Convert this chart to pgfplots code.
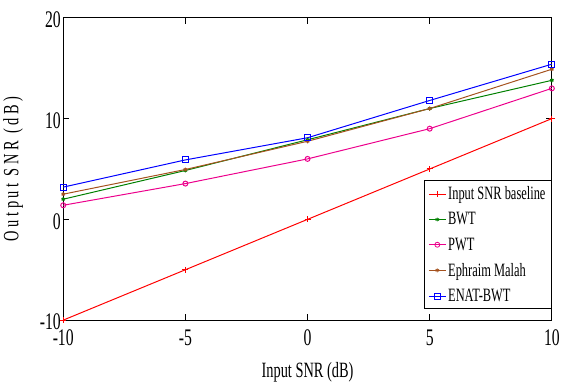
\documentclass[border=0pt]{standalone}
\usepackage{pgfplots}
\pgfplotsset{compat=1.18}
\usepackage{fontspec}
\setmainfont{Liberation Serif}[FakeStretch=0.66]
\definecolor{ebrown}{RGB}{165,82,30}
\definecolor{egreen}{RGB}{0,128,0}
\begin{document}
\begin{tikzpicture}
\begin{axis}[
  scale only axis,
  width=493pt, height=305pt,
  xmin=-10, xmax=10, ymin=-10, ymax=20,
  xtick={-10,-5,0,5,10}, ytick={-10,0,10,20},
  tick align=inside,
  major tick length=6pt,
  xtick pos=both, ytick pos=both,
  xticklabel pos=lower, yticklabel pos=left,
  axis line style={line width=1pt},
  every tick/.style={black, line width=0.8pt},
  /pgf/number format/assume math mode=true,
  ticklabel style={font=\fontsize{24}{24}\selectfont},
  xticklabel style={yshift=-6pt},
  yticklabel style={xshift=1pt, yshift=-2pt},
  xlabel={Input SNR (dB)},
  ylabel={O u t p u t\ \ S N R\ \ ( d B )},
  label style={font=\fontsize{22}{22}\selectfont},
  xlabel style={yshift=-10pt},
  ylabel style={yshift=10pt},
  legend style={at={(rel axis cs:1,0.036)}, anchor=south east,
    font=\fontsize{19}{19}\selectfont, draw=black, line width=0.8pt,
    row sep=7.5pt, inner sep=4pt},
  legend cell align=left,
  legend image post style={line width=0.8pt},
  every axis plot/.append style={line width=1pt, mark size=3pt},
]
\addplot[red, mark=+] coordinates {(-10,-10) (-5,-5) (0,0) (5,5) (10,10)};
\addlegendentry{Input SNR baseline}
\addplot[egreen, mark=asterisk, mark size=2pt] coordinates {(-10,2.0) (-5,4.85) (0,7.9) (5,11.0) (10,13.8)};
\addlegendentry{BWT}
\addplot[magenta, mark=o, mark size=2.5pt] coordinates {(-10,1.4) (-5,3.55) (0,6.0) (5,9.0) (10,13.0)};
\addlegendentry{PWT}
\addplot[ebrown, mark=asterisk, mark size=2pt] coordinates {(-10,2.5) (-5,4.95) (0,7.75) (5,11.0) (10,14.9)};
\addlegendentry{Ephraim Malah}
\addplot[blue, mark=square, mark size=3pt] coordinates {(-10,3.2) (-5,5.9) (0,8.1) (5,11.8) (10,15.4)};
\addlegendentry{ENAT-BWT}
\end{axis}
\path (current axis.north) ++(0,18pt);
\end{tikzpicture}
\end{document}
